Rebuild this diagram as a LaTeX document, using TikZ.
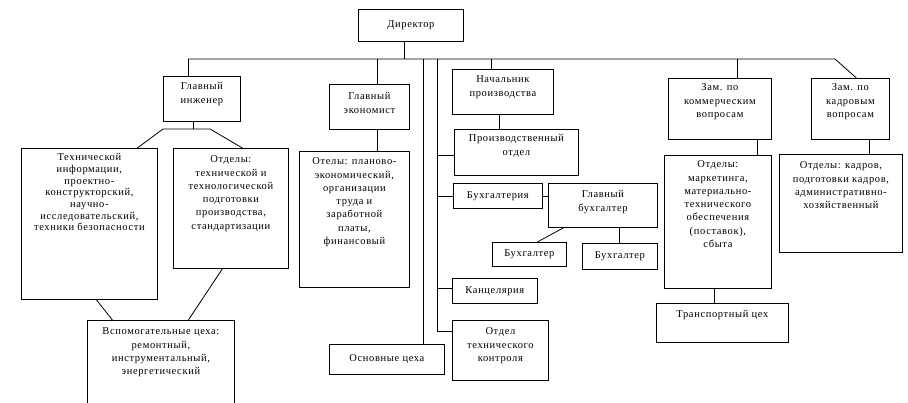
\documentclass[tikz,border=0pt]{standalone}
\usepackage{fontspec}
\setmainfont{Liberation Serif}[LetterSpace=6]
\newcommand\mkbox[5]{\node[box,minimum width=#4pt,minimum height=#5pt] (#1) at (#2,#3) {};}
\begin{document}
\begin{tikzpicture}[x=1pt,y=-1pt,
  box/.style={draw, line width=0.8pt, inner sep=0pt, anchor=north west},
  txt/.style={font=\fontsize{10.5}{13.3}\selectfont, align=center, inner sep=0pt, anchor=north},
  ctxt/.style={font=\fontsize{10.5}{13.3}\selectfont, align=center, inner sep=0pt, anchor=center},
  ln/.style={line width=0.8pt}]
\useasboundingbox (0,0) rectangle (908,402);
% boxes
\mkbox{dir}{358}{9}{105}{32}
\mkbox{gi}{163}{76}{77}{45}
\mkbox{ge}{329}{84}{80}{45}
\mkbox{np}{452}{69}{101}{45}
\mkbox{zkm}{668}{78}{103}{61}
\mkbox{zk}{811}{78}{78}{61}
\mkbox{ti}{21}{148}{136}{151}
\mkbox{ot}{173}{148}{115}{120}
\mkbox{ote}{299}{151}{110}{136}
\mkbox{po}{454}{129}{124}{46}
\mkbox{buh}{453}{183}{89}{25}
\mkbox{gb}{548}{183}{109}{44}
\mkbox{bA}{492}{242}{74}{24}
\mkbox{bB}{582}{243}{75}{26}
\mkbox{kanc}{452}{278}{85}{25}
\mkbox{otk}{452}{320}{96}{60}
\mkbox{oc}{329}{344}{115}{30}
\mkbox{vc}{87}{320}{147}{90}
\mkbox{om}{664}{155}{107}{133}
\mkbox{tc}{656}{303}{132}{39}
\mkbox{ok}{779}{154}{123}{98}
% texts
\node[ctxt] (dir-t) at (dir.center) {Директор};
\node[txt] (gi-t) at ([yshift=-4.2pt]gi.north) {\strut Главный\\инженер};
\node[txt] (ge-t) at ([yshift=-6.2pt]ge.north) {\strut Главный\\экономист};
\node[txt] (np-t) at ([yshift=-4.2pt]np.north) {\strut Начальник\\производства};
\node[txt] (zkm-t) at ([yshift=-3.2pt]zkm.north) {\strut Зам. по\\коммерческим\\вопросам};
\node[txt] (zk-t) at ([yshift=-3.2pt]zk.north) {\strut Зам. по\\кадровым\\вопросам};
\node[txt,font=\fontsize{10.5}{11.7}\selectfont] (ti-t) at ([yshift=-4.3pt]ti.north) {\strut Технической\\информации,\\проектно-\\конструкторский,\\научно-\\исследовательский,\\техники безопасности};
\node[txt] (ot-t) at ([yshift=-5.2pt]ot.north) {\strut Отделы:\\технической и\\технологической\\подготовки\\производства,\\стандартизации};
\node[txt] (ote-t) at ([yshift=-4.2pt]ote.north) {\strut Отелы: планово-\\экономический,\\организации\\труда и\\заработной\\платы,\\финансовый};
\node[txt] (po-t) at ([yshift=-3.2pt]po.north) {\strut Производственный\\отдел};
\node[ctxt] (buh-t) at (buh.center) {Бухгалтерия};
\node[txt] (gb-t) at ([yshift=-5.2pt]gb.north) {\strut Главный\\бухгалтер};
\node[ctxt] (bA-t) at (bA.center) {Бухгалтер};
\node[ctxt] (bB-t) at (bB.center) {Бухгалтер};
\node[ctxt] (kanc-t) at (kanc.center) {Канцелярия};
\node[txt] (otk-t) at ([yshift=-5.2pt]otk.north) {\strut Отдел\\технического\\контроля};
\node[ctxt] (oc-t) at (oc.center) {Основные цеха};
\node[txt] (vc-t) at ([yshift=-5.2pt]vc.north) {\strut Вспомогательные цеха:\\ремонтный,\\инструментальный,\\энергетический};
\node[txt] (om-t) at ([yshift=-3.2pt]om.north) {\strut Отделы:\\маркетинга,\\материально-\\технического\\обеспечения\\(поставок),\\сбыта};
\node[txt] (tc-t) at ([yshift=-5.2pt]tc.north) {\strut Транспортный цех};
\node[txt] (ok-t) at ([yshift=-5.2pt]ok.north) {\strut Отделы: кадров,\\подготовки кадров,\\административно-\\хозяйственный};
% connectors
\coordinate (busL) at (188,59);
\coordinate (busR) at (835,59);
\coordinate (v2) at (437,59);
\coordinate (jl) at (163,129);
\coordinate (jr) at (210,129);
\draw[ln] (busL) -- (busR) -- ([xshift=6pt]zk.north);
\draw[ln] ([xshift=-6.5pt]dir.south) -- ([xshift=-6.5pt]dir.south |- busL);
\draw[ln] (busL) -- (busL |- gi.north);
\draw[ln] ([xshift=8pt]ge.north) -- ([xshift=8pt]ge.north |- busL);
\draw[ln] ([xshift=36pt]oc.north) -- ([xshift=36pt]oc.north |- busL);
\draw[ln] (v2) |- ([yshift=19pt]otk.west);
\draw[ln] ([yshift=-3pt]po.west) -- ([yshift=-3pt]po.west -| v2);
\draw[ln] (buh.west) -- (buh.west -| v2);
\draw[ln] ([yshift=3pt]kanc.west) -- ([yshift=3pt]kanc.west -| v2);
\draw[ln] ([xshift=-11.5pt]np.north) -- ([xshift=-11.5pt]np.north |- busL);
\draw[ln] ([xshift=-3.5pt]np.south) -- ([xshift=-3.5pt]np.south |- po.north);
\draw[ln] (buh.east) -- (buh.east -| gb.west);
\draw[ln] ([xshift=-39.5pt]gb.south) -- ([xshift=8pt]bA.north);
\draw[ln] ([xshift=16.5pt]gb.south) -- ([xshift=16.5pt]gb.south |- bB.north);
\draw[ln] ([xshift=17.5pt]zkm.north) -- ([xshift=17.5pt]zkm.north |- busL);
\draw[ln] ([xshift=37.5pt]zkm.south) -- ([xshift=37.5pt]zkm.south |- om.north);
\draw[ln] ([xshift=-3.5pt]om.south) -- ([xshift=-3.5pt]om.south |- tc.north);
\draw[ln] ([xshift=19pt]zk.south) -- ([xshift=19pt]zk.south |- ok.north);
\draw[ln] ([xshift=-8.5pt]gi.south) -- ([xshift=-8.5pt]gi.south |- jl);
\draw[ln] ([xshift=48pt]ti.north) -- (jl) -- (jr) -- ([xshift=11.5pt]ot.north);
\draw[ln] ([xshift=8pt]ge.south) -- ([xshift=8pt]ge.south |- ote.north);
\draw[ln] ([xshift=7pt]ti.south) -- ([xshift=-48.5pt]vc.north);
\draw[ln] ([xshift=-8.5pt]ot.south) -- ([xshift=27.5pt]vc.north);
\end{tikzpicture}
\end{document}
